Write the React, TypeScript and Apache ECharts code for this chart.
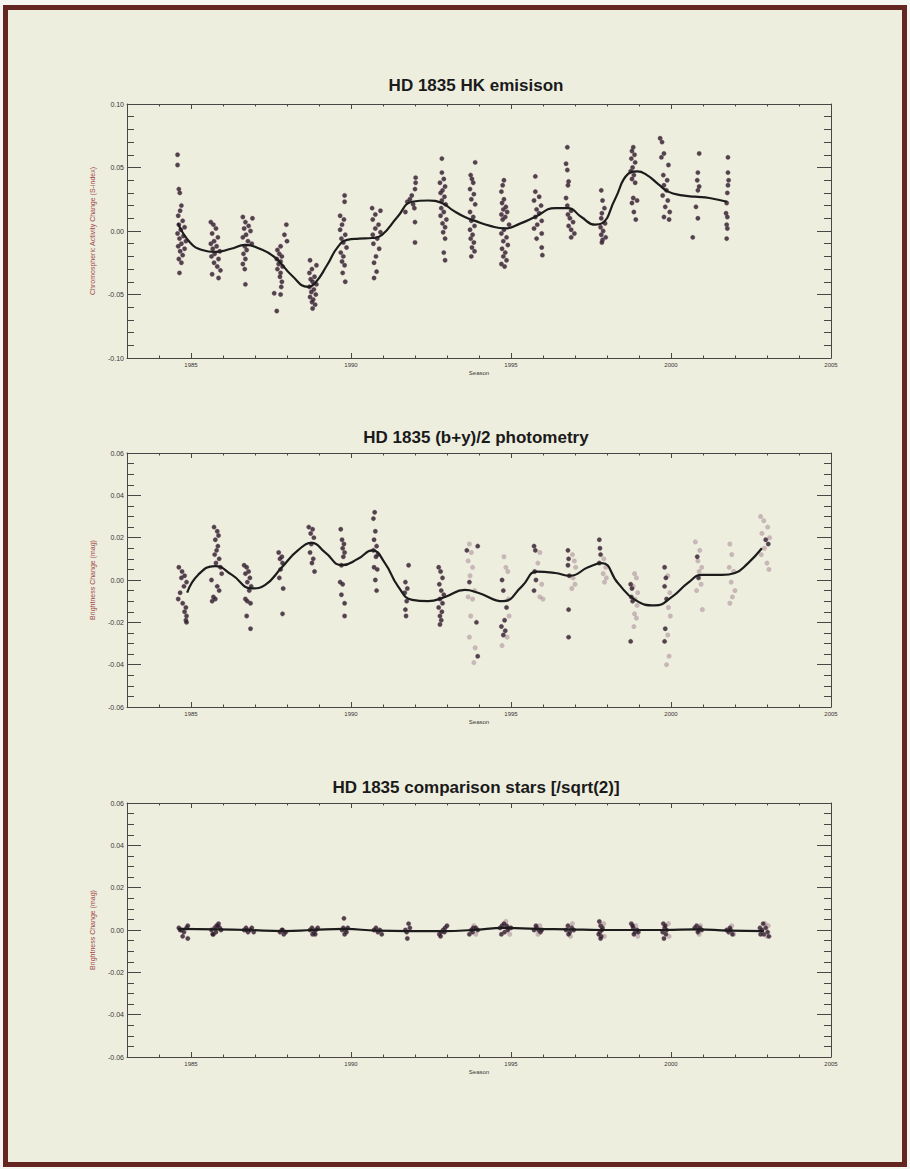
import React, { useEffect, useRef } from "react";
import * as echarts from "echarts";

// ---------- data (season year, value) ----------
const titles = [
  "HD 1835 HK emisison",
  "HD 1835 (b+y)/2 photometry",
  "HD 1835 comparison stars [/sqrt(2)]",
];
const yNames = [
  "Chromospheric Activity Change (S-index)",
  "Brightness Change (mag)",
  "Brightness Change (mag)",
];
const xTickLabels = [1985, 1990, 1995, 2000, 2005];

const hkPoints: number[][] = [
  [1984.58,0.060],[1984.58,0.052],[1984.62,0.033],[1984.65,0.030],[1984.70,0.020],[1984.66,0.016],[1984.60,0.012],[1984.74,0.008],[1984.62,0.005],[1984.80,0.003],[1984.68,0.001],[1984.58,-0.002],[1984.76,-0.004],[1984.64,-0.006],[1984.84,-0.008],[1984.70,-0.010],[1984.60,-0.012],[1984.80,-0.014],[1984.66,-0.016],[1984.74,-0.019],[1984.62,-0.022],[1984.70,-0.025],[1984.64,-0.033],
  [1985.62,0.007],[1985.70,0.005],[1985.78,0.002],[1985.66,-0.002],[1985.84,-0.005],[1985.72,-0.008],[1985.62,-0.010],[1985.80,-0.012],[1985.68,-0.014],[1985.90,-0.016],[1985.74,-0.018],[1985.64,-0.020],[1985.86,-0.022],[1985.72,-0.025],[1985.82,-0.028],[1985.92,-0.031],[1985.66,-0.034],[1985.86,-0.037],
  [1986.62,0.011],[1986.92,0.010],[1986.70,0.007],[1986.80,0.004],[1986.66,0.002],[1986.86,0.000],[1986.72,-0.003],[1986.62,-0.005],[1986.78,-0.008],[1986.90,-0.010],[1986.68,-0.012],[1986.74,-0.015],[1986.64,-0.018],[1986.70,-0.022],[1986.62,-0.026],[1986.68,-0.030],[1986.70,-0.042],
  [1987.98,0.005],[1987.92,-0.003],[1988.00,-0.008],[1987.80,-0.012],[1987.70,-0.015],[1987.76,-0.018],[1987.84,-0.020],[1987.68,-0.022],[1987.80,-0.024],[1987.74,-0.026],[1987.86,-0.028],[1987.70,-0.030],[1987.80,-0.033],[1987.78,-0.036],[1987.84,-0.040],[1987.82,-0.044],[1987.60,-0.049],[1987.80,-0.050],[1987.68,-0.063],
  [1988.72,-0.023],[1988.92,-0.027],[1988.78,-0.030],[1988.70,-0.033],[1988.86,-0.036],[1988.74,-0.038],[1988.80,-0.040],[1988.92,-0.042],[1988.70,-0.044],[1988.84,-0.046],[1988.76,-0.048],[1988.90,-0.050],[1988.72,-0.052],[1988.82,-0.054],[1988.78,-0.056],[1988.88,-0.058],[1988.80,-0.061],
  [1989.80,0.028],[1989.80,0.023],[1989.66,0.012],[1989.78,0.009],[1989.72,0.005],[1989.66,0.001],[1989.82,-0.003],[1989.70,-0.006],[1989.76,-0.009],[1989.86,-0.013],[1989.68,-0.017],[1989.76,-0.020],[1989.72,-0.024],[1989.80,-0.027],[1989.74,-0.033],[1989.82,-0.040],
  [1990.66,0.018],[1990.92,0.016],[1990.76,0.013],[1990.68,0.009],[1990.86,0.005],[1990.76,0.002],[1990.92,-0.001],[1990.68,-0.003],[1990.82,-0.006],[1990.70,-0.010],[1990.88,-0.014],[1990.78,-0.020],[1990.72,-0.025],[1990.80,-0.032],[1990.72,-0.037],
  [1992.02,0.042],[1992.02,0.038],[1992.00,0.033],[1991.90,0.028],[1991.84,0.025],[1991.76,0.023],[1991.94,0.021],[1991.98,0.018],[1991.70,0.015],[1992.00,0.007],[1992.00,-0.009],
  [1992.84,0.057],[1992.84,0.046],[1992.90,0.041],[1992.78,0.038],[1992.94,0.035],[1992.86,0.032],[1992.80,0.030],[1992.92,0.027],[1992.84,0.024],[1992.96,0.021],[1992.82,0.018],[1992.90,0.015],[1992.80,0.012],[1992.98,0.009],[1992.86,0.006],[1992.94,0.003],[1992.88,-0.001],[1992.94,-0.006],[1992.90,-0.017],[1992.94,-0.023],
  [1993.88,0.054],[1993.74,0.044],[1993.78,0.041],[1993.82,0.038],[1993.72,0.033],[1993.84,0.029],[1993.76,0.025],[1993.88,0.021],[1993.72,0.015],[1993.82,0.011],[1993.76,0.008],[1993.86,0.004],[1993.72,0.001],[1993.80,-0.003],[1993.74,-0.006],[1993.84,-0.009],[1993.78,-0.013],[1993.86,-0.016],[1993.76,-0.020],
  [1994.78,0.040],[1994.74,0.036],[1994.70,0.031],[1994.78,0.025],[1994.72,0.022],[1994.84,0.019],[1994.76,0.017],[1994.88,0.015],[1994.70,0.013],[1994.82,0.011],[1994.74,0.009],[1994.94,0.005],[1994.78,0.001],[1994.70,-0.002],[1994.86,-0.005],[1994.76,-0.008],[1994.90,-0.011],[1994.72,-0.014],[1994.82,-0.017],[1994.76,-0.020],[1994.86,-0.023],[1994.70,-0.026],[1994.80,-0.028],
  [1995.76,0.043],[1995.76,0.031],[1995.88,0.027],[1995.72,0.024],[1995.94,0.020],[1995.80,0.017],[1995.88,0.014],[1995.76,0.011],[1995.96,0.008],[1995.82,0.005],[1995.72,0.002],[1995.96,-0.002],[1995.80,-0.006],[1995.96,-0.013],[1995.98,-0.019],
  [1996.76,0.066],[1996.72,0.053],[1996.76,0.048],[1996.80,0.039],[1996.78,0.036],[1996.72,0.026],[1996.76,0.020],[1996.88,0.016],[1996.78,0.013],[1996.84,0.010],[1996.94,0.007],[1996.80,0.004],[1996.88,0.001],[1996.98,-0.002],[1996.88,-0.005],
  [1997.82,0.032],[1997.86,0.024],[1997.92,0.018],[1997.84,0.014],[1997.82,0.010],[1997.94,0.006],[1997.80,0.003],[1997.88,0.000],[1997.82,-0.003],[1997.96,-0.005],[1997.86,-0.007],[1997.84,-0.009],
  [1998.82,0.066],[1998.78,0.063],[1998.86,0.060],[1998.76,0.057],[1998.88,0.054],[1998.80,0.050],[1998.74,0.047],[1998.84,0.044],[1998.78,0.041],[1998.88,0.038],[1998.82,0.026],[1998.94,0.024],[1998.78,0.022],[1998.84,0.015],[1998.90,0.009],
  [1999.66,0.073],[1999.72,0.070],[1999.78,0.061],[1999.70,0.058],[1999.92,0.052],[1999.76,0.044],[1999.88,0.040],[1999.78,0.036],[1999.86,0.032],[1999.74,0.028],[1999.90,0.024],[1999.82,0.019],[1999.96,0.015],[1999.78,0.011],[1999.94,0.009],
  [2000.88,0.061],[2000.84,0.046],[2000.82,0.040],[2000.88,0.035],[2000.84,0.032],[2000.78,0.019],[2000.84,0.010],[2000.68,-0.005],
  [2001.78,0.058],[2001.78,0.046],[2001.80,0.040],[2001.78,0.036],[2001.76,0.030],[2001.74,0.022],[2001.72,0.014],[2001.76,0.011],[2001.74,0.005],[2001.76,0.002],[2001.74,-0.006],
];

const hkFit: number[][] = [
  [1984.59,0.006],[1984.97,-0.009],[1985.35,-0.015],[1985.75,-0.0165],[1986.25,-0.014],[1986.69,-0.011],[1987.15,-0.014],[1987.63,-0.021],[1988.15,-0.035],[1988.66,-0.044],[1988.88,-0.041],[1989.25,-0.027],[1989.59,-0.0125],[1989.88,-0.007],[1990.25,-0.006],[1990.66,-0.0055],[1990.97,-0.003],[1991.45,0.011],[1991.91,0.023],[1992.41,0.024],[1992.84,0.022],[1993.2,0.016],[1993.56,0.011],[1993.88,0.008],[1994.35,0.004],[1994.81,0.002],[1995.3,0.006],[1995.75,0.011],[1996.38,0.018],[1996.78,0.018],[1997.2,0.011],[1997.63,0.005],[1997.84,0.006],[1998.25,0.025],[1998.66,0.045],[1998.95,0.047],[1999.25,0.044],[1999.6,0.037],[1999.91,0.031],[2000.35,0.028],[2000.75,0.027],[2001.2,0.026],[2001.75,0.023],
];

const phDark: number[][] = [
  [1984.62,0.006],[1984.72,0.004],[1984.80,0.002],[1984.70,0.001],[1984.86,-0.001],[1984.78,-0.003],[1984.66,-0.006],[1984.60,-0.009],[1984.74,-0.011],[1984.84,-0.013],[1984.80,-0.015],[1984.86,-0.017],[1984.84,-0.019],[1984.86,-0.020],
  [1985.72,0.025],[1985.82,0.023],[1985.86,0.021],[1985.76,0.019],[1985.84,0.016],[1985.80,0.014],[1985.74,0.012],[1985.88,0.010],[1985.78,0.008],[1985.92,0.006],[1985.96,0.003],[1985.64,0.000],[1985.82,-0.003],[1985.88,-0.005],[1985.70,-0.008],[1985.76,-0.009],[1985.66,-0.010],
  [1986.66,0.007],[1986.74,0.006],[1986.80,0.004],[1986.70,0.003],[1986.84,0.001],[1986.76,-0.001],[1986.88,-0.003],[1986.82,-0.005],[1986.70,-0.009],[1986.76,-0.010],[1986.86,-0.011],[1986.74,-0.017],[1986.86,-0.023],
  [1987.74,0.013],[1987.84,0.011],[1987.78,0.010],[1987.86,0.008],[1987.80,0.005],[1987.76,0.001],[1987.88,-0.004],[1987.86,-0.016],
  [1988.68,0.025],[1988.80,0.024],[1988.74,0.022],[1988.84,0.020],[1988.76,0.017],[1988.72,0.013],[1988.82,0.010],[1988.78,0.008],[1988.86,0.004],
  [1989.68,0.024],[1989.72,0.019],[1989.78,0.017],[1989.74,0.015],[1989.80,0.013],[1989.76,0.011],[1989.70,0.007],[1989.66,-0.001],[1989.74,-0.002],[1989.70,-0.007],[1989.80,-0.011],[1989.80,-0.017],
  [1990.74,0.032],[1990.70,0.029],[1990.76,0.023],[1990.72,0.019],[1990.80,0.016],[1990.70,0.014],[1990.84,0.012],[1990.78,0.011],[1990.72,0.006],[1990.82,0.005],[1990.76,0.000],[1990.80,-0.005],
  [1991.80,0.007],[1991.70,-0.001],[1991.76,-0.004],[1991.68,-0.006],[1991.74,-0.010],[1991.70,-0.014],[1991.72,-0.017],
  [1992.74,0.006],[1992.80,0.004],[1992.86,0.001],[1992.76,-0.002],[1992.82,-0.005],[1992.90,-0.007],[1992.78,-0.009],[1992.86,-0.011],[1992.74,-0.013],[1992.84,-0.015],[1992.78,-0.017],[1992.82,-0.019],[1992.78,-0.021],
  [1993.62,0.014],[1993.96,0.016],[1993.70,-0.001],[1993.92,-0.020],[1993.96,-0.036],
  [1994.72,0.000],[1994.76,-0.005],[1994.86,-0.013],[1994.80,-0.019],[1994.70,-0.022],[1994.82,-0.024],[1994.76,-0.026],
  [1995.72,0.016],[1995.76,0.014],[1995.74,0.004],[1995.78,0.000],[1995.72,-0.005],
  [1996.78,0.014],[1996.80,0.010],[1996.78,0.007],[1996.82,0.002],[1996.80,-0.014],[1996.80,-0.027],
  [1997.76,0.019],[1997.78,0.015],[1997.80,0.012],[1997.76,0.008],
  [1998.74,-0.002],[1998.78,-0.004],[1998.76,-0.008],[1998.80,-0.010],[1998.74,-0.029],
  [1999.80,0.006],[1999.84,0.001],[1999.80,-0.003],[1999.86,-0.009],[1999.82,-0.023],[1999.80,-0.029],
  [2000.82,0.011],[2000.86,0.001],
  [2002.96,0.019],[2003.04,0.017],
];

const phFaint: number[][] = [
  [1993.70,0.017],[1993.76,0.013],[1993.66,0.009],[1993.80,0.006],[1993.72,0.002],[1993.86,-0.005],[1993.66,-0.008],[1993.80,-0.009],[1993.74,-0.017],[1993.70,-0.027],[1993.88,-0.032],[1993.84,-0.039],
  [1994.78,0.011],[1994.84,0.006],[1994.90,0.004],[1994.92,-0.009],[1994.94,-0.017],[1994.88,-0.027],[1994.72,-0.031],
  [1995.90,0.013],[1995.84,0.008],[1995.96,-0.002],[1995.90,-0.008],[1996.00,-0.009],
  [1996.92,0.012],[1996.98,0.009],[1997.02,0.006],[1996.94,0.001],[1997.00,-0.002],[1996.90,-0.004],
  [1997.90,0.010],[1997.96,0.006],[1997.88,0.003],[1997.98,0.001],[1997.92,-0.001],
  [1998.86,0.003],[1998.92,0.001],[1998.82,-0.003],[1998.96,-0.006],[1998.88,-0.009],[1998.94,-0.012],[1998.86,-0.016],[1998.92,-0.018],[1998.84,-0.022],
  [1999.90,0.002],[1999.96,-0.006],[1999.92,-0.013],[1999.98,-0.017],[1999.90,-0.026],[1999.94,-0.036],[1999.86,-0.040],
  [2000.76,0.018],[2000.90,0.014],[2000.84,0.009],[2000.96,0.006],[2000.88,0.004],[2000.94,-0.002],[2000.80,-0.005],[2000.98,-0.014],
  [2001.84,0.017],[2001.90,0.012],[2001.82,0.006],[2001.96,0.004],[2001.88,-0.001],[2002.00,-0.005],[2001.92,-0.008],[2001.84,-0.011],
  [2002.80,0.030],[2002.90,0.028],[2003.02,0.025],[2002.84,0.022],[2003.08,0.020],[2002.92,0.015],[2002.82,0.012],[2003.00,0.008],[2003.06,0.005],
];

const phFit: number[][] = [
  [1984.88,-0.006],[1985.22,0.0024],[1985.75,0.0066],[1986.28,0.0024],[1986.91,-0.004],[1987.31,-0.0024],[1987.84,0.006],[1988.34,0.014],[1988.78,0.0175],[1989.19,0.013],[1989.72,0.007],[1990.22,0.010],[1990.66,0.014],[1991.06,0.008],[1991.47,-0.003],[1991.91,-0.0094],[1992.41,-0.010],[1992.94,-0.008],[1993.56,-0.0047],[1993.97,-0.006],[1994.75,-0.010],[1995.34,-0.003],[1995.81,0.004],[1996.38,0.0033],[1996.84,0.002],[1997.41,0.006],[1997.84,0.008],[1998.34,-0.0014],[1998.88,-0.0094],[1999.5,-0.012],[2000.03,-0.008],[2000.53,-0.0014],[2000.97,0.0024],[2001.59,0.0024],[2002.0,0.0033],[2002.41,0.008],[2002.84,0.015],
];

const cmpDark: number[][] = [
  [1984.62,0.001],[1984.70,0.000],[1984.78,-0.001],[1984.86,0.001],[1984.90,0.002],[1984.74,-0.003],[1984.90,-0.004],[1984.66,0.000],
  [1985.64,0.000],[1985.70,-0.002],[1985.74,0.001],[1985.80,0.002],[1985.86,0.003],[1985.90,0.001],[1985.78,-0.001],[1985.84,0.002],[1985.68,-0.002],[1985.94,0.000],
  [1986.66,0.000],[1986.72,0.001],[1986.78,-0.001],[1986.84,0.000],[1986.90,0.001],[1986.96,-0.001],[1986.74,0.000],
  [1987.78,-0.001],[1987.84,0.000],[1987.90,-0.002],[1987.96,-0.001],[1987.86,0.000],
  [1988.72,0.000],[1988.78,0.001],[1988.84,-0.001],[1988.90,0.000],[1988.80,-0.002],[1988.96,0.001],[1988.88,-0.002],
  [1989.78,0.0055],[1989.76,0.001],[1989.82,0.000],[1989.86,-0.001],[1989.72,0.000],[1989.90,0.001],[1989.80,-0.002],
  [1990.72,0.000],[1990.78,0.001],[1990.84,-0.001],[1990.90,0.000],[1990.96,-0.002],
  [1991.70,0.000],[1991.76,-0.004],[1991.80,0.003],[1991.84,0.001],[1991.74,-0.001],
  [1992.76,-0.002],[1992.82,-0.001],[1992.88,0.000],[1992.94,0.001],[1993.00,0.002],[1992.80,-0.003],[1992.92,-0.001],
  [1993.70,-0.002],[1993.76,0.000],[1993.82,0.001],[1993.90,0.001],[1993.96,0.000],[1993.80,-0.001],
  [1994.66,0.001],[1994.72,0.002],[1994.78,0.003],[1994.86,0.002],[1994.92,0.001],[1994.80,-0.001],[1994.90,0.000],[1994.70,-0.002],[1995.00,0.001],
  [1995.72,0.000],[1995.80,0.001],[1995.86,0.000],[1995.92,-0.001],[1995.78,0.002],[1995.96,0.000],
  [1996.72,0.000],[1996.78,0.002],[1996.84,-0.001],[1996.90,0.001],[1996.96,0.000],[1996.80,-0.002],
  [1997.76,0.004],[1997.80,0.002],[1997.78,-0.001],[1997.82,-0.003],[1997.86,0.001],[1997.74,-0.002],[1997.84,0.000],[1997.80,-0.004],
  [1998.76,0.003],[1998.82,0.001],[1998.88,-0.001],[1998.94,0.000],[1998.84,-0.002],[1998.98,-0.001],[1998.80,0.002],
  [1999.76,0.003],[1999.80,0.001],[1999.84,-0.002],[1999.78,-0.004],[1999.86,0.000],[1999.82,0.002],[1999.74,-0.001],
  [2000.74,0.001],[2000.80,0.002],[2000.86,0.000],[2000.90,0.001],[2000.84,-0.001],[2000.96,0.000],
  [2001.74,0.000],[2001.80,-0.001],[2001.86,0.000],[2001.92,-0.002],[2001.84,0.001],
  [2002.78,0.001],[2002.84,0.000],[2002.90,-0.002],[2002.96,0.001],[2003.02,-0.001],[2002.88,0.003],[2003.06,-0.003],[2002.80,-0.002],
];

const cmpFaint: number[][] = [
  [1993.84,0.002],[1993.90,-0.002],[1994.84,0.004],[1994.96,-0.002],[1995.90,0.002],[1995.84,-0.002],[1996.92,0.003],[1996.86,-0.003],[1997.90,0.003],[1997.92,-0.003],[1998.90,0.002],[1998.96,-0.003],[1999.92,0.003],[1999.94,-0.003],[2000.92,0.002],[2000.88,-0.002],[2001.90,0.002],[2001.96,-0.002],[2002.94,0.003],[2003.04,0.002],[2003.00,-0.003],
];

const cmpFit: number[][] = [
  [1984.6,0.0005],[1985.8,0.0003],[1986.8,0.0],[1987.9,-0.0005],[1988.8,0.0],[1989.8,0.0005],[1990.8,-0.0003],[1991.8,-0.0005],[1992.9,-0.0005],[1993.8,0.0],[1994.8,0.001],[1995.8,0.0005],[1996.8,0.0003],[1997.8,0.0],[1998.9,0.0],[1999.8,0.0],[2000.8,0.0003],[2001.8,-0.0003],[2002.9,-0.0005],
];

// ---------- layout ----------
const GRID_LEFT = 127;
const GRID_W = 704;
const GRID_H = 254;
const GRID_TOPS = [104, 453, 803];
const TITLE_Y = [85, 437, 787];
const Y_RANGES = [
  { min: -0.1, max: 0.1, interval: 0.05, minor: 5 },
  { min: -0.06, max: 0.06, interval: 0.02, minor: 4 },
  { min: -0.06, max: 0.06, interval: 0.02, minor: 4 },
];

const AXIS_COLOR = "#4a4646";
const FONT = "Liberation Sans, Arial, sans-serif";

export default function App() {
  const ref = useRef<HTMLDivElement>(null);

  useEffect(() => {
    if (!ref.current) return;
    const chart = echarts.init(ref.current, undefined, { renderer: "svg" });

    const grids: any[] = [];
    const xAxes: any[] = [];
    const yAxes: any[] = [];
    const series: any[] = [];
    const graphics: any[] = [];

    const lineStyle = { color: AXIS_COLOR, width: 1 };

    for (let g = 0; g < 3; g++) {
      grids.push({ left: GRID_LEFT, top: GRID_TOPS[g], width: GRID_W, height: GRID_H, containLabel: false });
      const baseX = { gridIndex: g, type: "value", min: 1983, max: 2005, splitLine: { show: false } };
      xAxes.push({
        ...baseX,
        position: "bottom",
        axisLine: { show: true, onZero: false, lineStyle },
        axisTick: { show: true, inside: true, length: 5, customValues: xTickLabels, lineStyle },
        axisLabel: { customValues: xTickLabels, fontSize: 6, color: "#3a3535", fontFamily: FONT, margin: 4, formatter: (v: number) => String(v) },
        name: "Season",
        nameLocation: "middle",
        nameGap: 12,
        nameTextStyle: { fontSize: 6, color: "#3a3535", fontFamily: FONT },
      });
      xAxes.push({
        ...baseX,
        position: "bottom",
        interval: 1,
        axisLine: { show: false, onZero: false },
        axisTick: { show: true, inside: true, length: 2.5, lineStyle },
        axisLabel: { show: false },
      });
      xAxes.push({
        ...baseX,
        position: "top",
        axisLine: { show: true, onZero: false, lineStyle },
        axisTick: { show: true, inside: true, length: 5, customValues: xTickLabels, lineStyle },
        axisLabel: { show: false },
      });
      xAxes.push({
        ...baseX,
        position: "top",
        interval: 1,
        axisLine: { show: false, onZero: false },
        axisTick: { show: true, inside: true, length: 2.5, lineStyle },
        axisLabel: { show: false },
      });

      const yr = Y_RANGES[g];
      const baseY = {
        gridIndex: g,
        type: "value",
        min: yr.min,
        max: yr.max,
        interval: yr.interval,
        splitLine: { show: false },
        axisLine: { show: true, onZero: false, lineStyle },
        axisTick: { show: true, inside: true, length: 14, lineStyle },
        minorTick: { show: true, splitNumber: yr.minor, length: 7, lineStyle },
        minorSplitLine: { show: false },
      };
      yAxes.push({
        ...baseY,
        position: "left",
        axisLabel: { fontSize: 7, color: "#3a3535", fontFamily: FONT, margin: 3, formatter: (v: number) => v.toFixed(2) },
        name: yNames[g],
        nameLocation: "middle",
        nameGap: 31,
        nameTextStyle: { fontSize: 7, color: "#a04848", fontFamily: FONT },
      });
      yAxes.push({
        ...baseY,
        position: "right",
        axisLabel: { show: false },
      });

      graphics.push({
        type: "text",
        x: GRID_LEFT + GRID_W / 2 - 3,
        y: TITLE_Y[g],
        style: {
          text: titles[g],
          textAlign: "center",
          textVerticalAlign: "middle",
          font: `bold 17px ${FONT}`,
          fill: "#1a1a1a",
        },
      });
    }

    const dark = { color: "#231c26", borderColor: "rgba(150,80,120,0.55)", borderWidth: 0.7 };
    const faint = { color: "rgba(140,100,120,0.5)" };

    const scatter = (g: number, data: number[][], style: any, size: number) => ({
      type: "scatter",
      xAxisIndex: g * 4,
      yAxisIndex: g * 2,
      data,
      symbol: "circle",
      symbolSize: size,
      itemStyle: style,
      silent: true,
      z: 2,
    });
    const fit = (g: number, data: number[][]) => ({
      type: "line",
      xAxisIndex: g * 4,
      yAxisIndex: g * 2,
      data,
      smooth: 0.5,
      showSymbol: false,
      symbol: "none",
      lineStyle: { color: "#1c1c1c", width: 2.2 },
      silent: true,
      z: 3,
    });

    series.push(scatter(0, hkPoints, dark, 4.5));
    series.push(fit(0, hkFit));
    series.push(scatter(1, phFaint, faint, 5));
    series.push(scatter(1, phDark, dark, 4.5));
    series.push(fit(1, phFit));
    series.push(scatter(2, cmpFaint, faint, 5));
    series.push(scatter(2, cmpDark, dark, 4.5));
    series.push(fit(2, cmpFit));

    chart.setOption({
      animation: false,
      backgroundColor: "transparent",
      grid: grids,
      xAxis: xAxes,
      yAxis: yAxes,
      series,
      graphic: graphics,
    });

    return () => chart.dispose();
  }, []);

  return (
    <div style={{ position: "absolute", left: 0, top: 0, width: 910, height: 1169, background: "#f5f5f1" }}>
      <div
        style={{
          position: "absolute",
          left: 3,
          top: 5,
          width: 904,
          height: 1162,
          boxSizing: "border-box",
          border: "5px solid #652622",
          background: "#eeeedf",
        }}
      />
      <div ref={ref} style={{ position: "absolute", left: 0, top: 0, width: 910, height: 1169 }} />
    </div>
  );
}
